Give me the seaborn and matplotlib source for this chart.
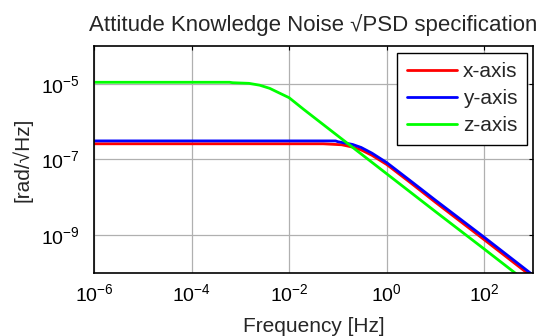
import numpy as np
import pandas as pd
import matplotlib
matplotlib.use('Agg')
import matplotlib.pyplot as plt
import seaborn as sns

# values (log-log, rad/sqrt(Hz) vs Hz)
freq_x = [1e-6, 0.05, 0.12, 0.2, 0.3, 0.5, 1, 3, 10, 100, 1000]
psd_x = [2.6e-7, 2.6e-7, 2.45e-7, 2.13e-7, 1.79e-7, 1.29e-7, 7.4e-8, 2.5e-8, 7.4e-9, 7.6e-10, 7.6e-11]

freq_y = [1e-6, 0.09, 0.1, 0.2, 0.3, 0.5, 1, 3, 10, 100, 1000]
psd_y = [3.1e-7, 3.1e-7, 2.95e-7, 2.5e-7, 2.08e-7, 1.47e-7, 8.3e-8, 2.8e-8, 8.4e-9, 8.8e-10, 8.8e-11]

freq_z = [1e-6, 6e-4, 7e-4, 1.5e-3, 2.5e-3, 4e-3, 6e-3, 1e-2, 2e-2, 0.1, 1, 10, 100, 1000]
psd_z = [1.1e-5, 1.1e-5, 1.07e-5, 1.03e-5, 9.2e-6, 7.6e-6, 5.9e-6, 4.3e-6, 2.1e-6, 4.2e-7, 4.2e-8, 4.2e-9, 4.3e-10, 4.3e-11]

axis_names = ['x-axis', 'y-axis', 'z-axis']
line_colors = ['#ff0000', '#0000ff', '#00ff00']

x_ticks = [1e-6, 1e-4, 1e-2, 1e0, 1e2]
y_ticks = [1e-9, 1e-7, 1e-5]

df = pd.concat([
    pd.DataFrame({'freq': freq_x, 'psd': psd_x, 'axis': 'x-axis'}),
    pd.DataFrame({'freq': freq_y, 'psd': psd_y, 'axis': 'y-axis'}),
    pd.DataFrame({'freq': freq_z, 'psd': psd_z, 'axis': 'z-axis'}),
], ignore_index=True)

sns.set_style('white')
plt.rcParams['font.family'] = ['Liberation Sans', 'DejaVu Sans']
plt.rcParams['mathtext.fontset'] = 'custom'
plt.rcParams['mathtext.rm'] = 'Liberation Sans'
plt.rcParams['mathtext.it'] = 'Liberation Sans'

fig = plt.figure(figsize=(5.42, 3.36), dpi=100)
ax = fig.add_axes([0.1734, 0.1875, 0.81, 0.6756])

sns.lineplot(data=df, x='freq', y='psd', hue='axis', hue_order=axis_names,
             palette=line_colors, estimator=None, sort=False, linewidth=2.0,
             ax=ax, legend=False)

ax.set_xscale('log')
ax.set_yscale('log')
ax.set_xlim(1e-6, 1e3)
ax.set_ylim(1e-10, 1e-4)
ax.set_xticks(x_ticks)
ax.set_yticks(y_ticks)
ax.minorticks_off()
ax.tick_params(direction='in', length=3, width=0.8, top=True, right=True,
               labelsize=14, colors='black')
ax.tick_params(axis='x', pad=7)
ax.tick_params(axis='y', pad=10)
ax.grid(True, color='#b0b0b0', linewidth=0.9)
for s in ax.spines.values():
    s.set_visible(True)
    s.set_color('black')
    s.set_linewidth(1.2)

ax.set_xlabel('Frequency [Hz]', fontsize=15, labelpad=9)
ax.set_ylabel('[rad/√Hz]', fontsize=15, labelpad=6)
ax.set_title('Attitude Knowledge Noise √PSD specification', fontsize=16, pad=11)

handles = [plt.Line2D([], [], color=c, linewidth=2.0) for c in line_colors]
leg = ax.legend(handles, axis_names, loc='upper right', bbox_to_anchor=(0.986, 0.969),
                borderaxespad=0, fontsize=15, fancybox=False, framealpha=1,
                edgecolor='black', handlelength=2.4, handletextpad=0.3,
                labelspacing=0.38, borderpad=0.45)
leg.get_frame().set_linewidth(1.0)

fig.savefig('out.png', dpi=100)
